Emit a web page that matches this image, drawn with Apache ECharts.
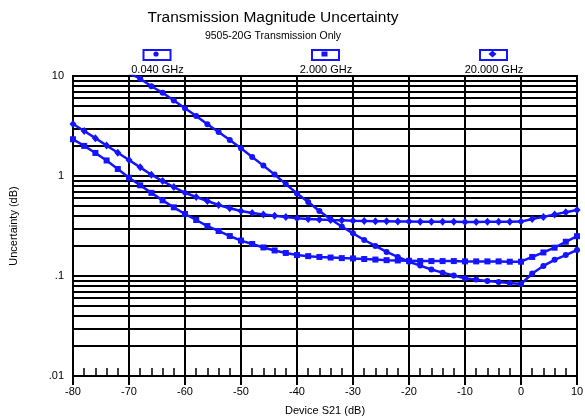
<!DOCTYPE html>
<html>
<head>
<meta charset="utf-8">
<script src="https://cdn.jsdelivr.net/npm/echarts@6/dist/echarts.min.js"></script>
<style>
  html, body { margin: 0; padding: 0; background: #fff; }
  #chart { width: 585px; height: 416px; }
</style>
</head>
<body>
<div id="chart"></div>
<script>
// Device S21 sweep (dB), one point every 2 dB
const s21 = [-80, -78, -76, -74, -72, -70, -68, -66, -64, -62, -60, -58, -56, -54, -52,
  -50, -48, -46, -44, -42, -40, -38, -36, -34, -32, -30, -28, -26, -24, -22,
  -20, -18, -16, -14, -12, -10, -8, -6, -4, -2, 0, 2, 4, 6, 8, 10];

// Magnitude uncertainty (dB) at each frequency
const u0040 = [null, null, null, null, null, 10.7, 9.4, 7.9, 6.8, 5.7, 4.75, 3.98, 3.3, 2.75, 2.29,
  1.89, 1.55, 1.27, 1.035, 0.83, 0.67, 0.55, 0.447, 0.37, 0.313, 0.267, 0.229, 0.2, 0.174, 0.155,
  0.139, 0.127, 0.116, 0.108, 0.101, 0.095, 0.092, 0.089, 0.087, 0.085, 0.083, 0.106, 0.126, 0.145, 0.162, 0.182];
const u2000 = [2.33, 2.0, 1.70, 1.43, 1.175, 0.96, 0.807, 0.678, 0.571, 0.486, 0.417, 0.363, 0.316, 0.282, 0.251,
  0.226, 0.209, 0.193, 0.18, 0.17, 0.162, 0.158, 0.155, 0.153, 0.151, 0.150, 0.148, 0.146, 0.144, 0.143,
  0.142, 0.141, 0.141, 0.141, 0.141, 0.140, 0.140, 0.140, 0.140, 0.139, 0.139, 0.155, 0.172, 0.192, 0.22, 0.25];
const u20000 = [3.31, 2.82, 2.39, 2.02, 1.71, 1.445, 1.22, 1.03, 0.89, 0.776, 0.68, 0.617, 0.562, 0.513, 0.476,
  0.447, 0.427, 0.412, 0.40, 0.389, 0.377, 0.372, 0.367, 0.363, 0.36, 0.357, 0.355, 0.353, 0.352, 0.351,
  0.35, 0.349, 0.349, 0.348, 0.348, 0.347, 0.347, 0.348, 0.348, 0.349, 0.35, 0.372, 0.39, 0.412, 0.435, 0.457];

const seriesNames = ['0.040 GHz', '2.000 GHz', '20.000 GHz'];
const seriesSymbols = ['circle', 'rect', 'diamond'];

// Y-axis decades and their printed labels
const decadeTicks = [0.01, 0.1, 1, 10];
const decadeLabels = ['.01', '.1', '1', '10'];
// Intermediate log grid lines (2..9 of each decade)
const minorGrid = [0.02, 0.03, 0.04, 0.05, 0.06, 0.07, 0.08, 0.09,
  0.2, 0.3, 0.4, 0.5, 0.6, 0.7, 0.8, 0.9,
  2, 3, 4, 5, 6, 7, 8, 9];

const BLUE = '#1414ff';
const FONT = 'Liberation Sans, Arial, sans-serif';

const pairs = (vals) => s21.map((x, i) => [x, vals[i]]);

const chart = echarts.init(document.getElementById('chart'), null, { renderer: 'canvas' });

const lineSeries = [u0040, u2000, u20000].map((vals, i) => ({
  name: seriesNames[i],
  type: 'line',
  xAxisIndex: 0,
  yAxisIndex: 0,
  data: pairs(vals),
  symbol: seriesSymbols[i],
  symbolSize: seriesSymbols[i] === 'diamond' ? [7, 8] : 6,
  showAllSymbol: true,
  clip: true,
  lineStyle: { color: BLUE, width: 2.5 },
  itemStyle: { color: BLUE, borderWidth: 0 },
  z: 5
}));

// Legend boxes drawn above the plot
const legendX = [156, 324.5, 492.5];
const legendY = 54;
const legendGraphics = [];
legendX.forEach((cx, i) => {
  legendGraphics.push({
    type: 'rect', left: cx - 13.5, top: legendY - 5,
    shape: { width: 27, height: 10 },
    style: { fill: '#fff', stroke: BLUE, lineWidth: 2 }
  });
  let marker;
  if (i === 0) {
    marker = { type: 'circle', shape: { cx: cx, cy: legendY, r: 2.6 }, style: { fill: BLUE } };
  } else if (i === 1) {
    marker = { type: 'rect', shape: { x: cx - 3, y: legendY - 2.5, width: 6, height: 5 }, style: { fill: BLUE } };
  } else {
    marker = { type: 'polygon', shape: { points: [[cx, legendY - 3.5], [cx + 4, legendY], [cx, legendY + 3.5], [cx - 4, legendY]] }, style: { fill: BLUE } };
  }
  legendGraphics.push(marker);
  legendGraphics.push({
    type: 'text',
    style: {
      text: seriesNames[i], x: cx + 1.5, y: 70,
      textAlign: 'center', textVerticalAlign: 'middle',
      font: '11px ' + FONT, fill: '#000'
    }
  });
});

// Title and subtitle, centred over the chart
legendGraphics.push({
  type: 'text',
  style: {
    text: 'Transmission Magnitude Uncertainty', x: 273, y: 18,
    textAlign: 'center', textVerticalAlign: 'middle',
    font: '15.5px ' + FONT, fill: '#000'
  }
});
legendGraphics.push({
  type: 'text',
  style: {
    text: '9505-20G Transmission Only', x: 273, y: 36,
    textAlign: 'center', textVerticalAlign: 'middle',
    font: '10.5px ' + FONT, fill: '#000'
  }
});

chart.setOption({
  animation: false,
  backgroundColor: '#fff',
  grid: {
    left: 73, right: 8, top: 76, bottom: 40,
    containLabel: false, outerBoundsMode: 'none',
    show: true, borderColor: '#000', borderWidth: 2, backgroundColor: 'transparent'
  },
  xAxis: [{
    type: 'value', min: -80, max: 10, interval: 10,
    name: 'Device S21 (dB)', nameLocation: 'middle', nameGap: 29,
    nameTextStyle: { fontFamily: FONT, fontSize: 11, color: '#000' },
    axisLine: { show: true, lineStyle: { color: '#000', width: 2 } },
    axisTick: { show: true, inside: false, length: 9, lineStyle: { color: '#000', width: 2 } },
    axisLabel: { margin: 10, fontFamily: FONT, fontSize: 11, color: '#000' },
    splitLine: { show: true, lineStyle: { color: '#000', width: 2 } }
  }, {
    // fine 2 dB ticks standing up from the bottom edge
    type: 'value', min: -80, max: 10, interval: 2, position: 'bottom',
    axisLine: { show: false },
    axisTick: { show: true, inside: true, length: 8, lineStyle: { color: '#000', width: 1.5 } },
    axisLabel: { show: false },
    splitLine: { show: false }
  }],
  yAxis: {
    type: 'log', logBase: 10, min: 0.01, max: 10,
    name: 'Uncertainty (dB)', nameLocation: 'middle', nameGap: 54,
    nameTextStyle: { fontFamily: FONT, fontSize: 11, color: '#000' },
    axisLine: { show: true, lineStyle: { color: '#000', width: 2 } },
    axisTick: { show: true, length: 5, lineStyle: { color: '#000', width: 1.5 } },
    axisLabel: {
      margin: 9, fontFamily: FONT, fontSize: 11, color: '#000',
      formatter: (v) => {
        const k = decadeTicks.findIndex((d) => Math.abs(d - v) / d < 1e-6);
        return k >= 0 ? decadeLabels[k] : '';
      }
    },
    splitLine: { show: true, lineStyle: { color: '#000', width: 2 } }
  },
  series: [{
    name: 'grid',
    type: 'line',
    data: [],
    silent: true,
    z: 1,
    markLine: {
      silent: true,
      symbol: ['none', 'none'],
      label: { show: false },
      lineStyle: { color: '#000', width: 2, type: 'solid' },
      data: minorGrid.map((v) => ({ yAxis: v }))
    }
  }].concat(lineSeries),
  graphic: legendGraphics
});
</script>
</body>
</html>
